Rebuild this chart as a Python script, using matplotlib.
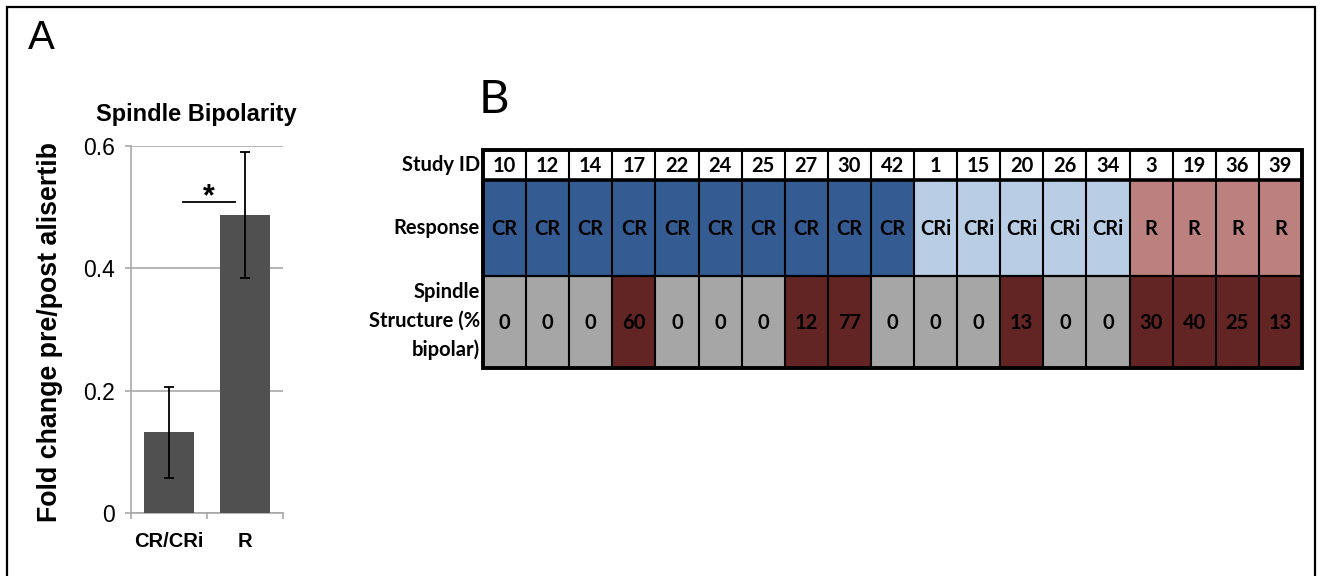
import numpy as np
import matplotlib
matplotlib.use("Agg")
import matplotlib.pyplot as plt
from matplotlib.patches import Rectangle

# Panel A: spindle bipolarity by response group
groups = ["CR/CRi", "R"]
fold_change = [0.132, 0.487]
fold_err = [0.074, 0.103]
y_ticks = [0, 0.2, 0.4, 0.6]
y_tick_labels = ["0", "0.2", "0.4", "0.6"]

# Panel B: per-patient table
study_ids = [10, 12, 14, 17, 22, 24, 25, 27, 30, 42, 1, 15, 20, 26, 34, 3, 19, 36, 39]
responses = ["CR"] * 10 + ["CRi"] * 5 + ["R"] * 4
pct_bipolar = [0, 0, 0, 60, 0, 0, 0, 12, 77, 0, 0, 0, 13, 0, 0, 30, 40, 25, 13]
row_labels = ["Study ID", "Response", "Spindle\nStructure (%\nbipolar)"]

response_colors = {"CR": "#355c92", "CRi": "#b9cde5", "R": "#bc817f"}
zero_color = "#a6a6a6"
bipolar_color = "#632523"

W, H = 1320, 576
fig = plt.figure(figsize=(W / 100, H / 100), dpi=100)


def fx(px):
    return px / W


def fy(py):
    return 1 - py / H


# outer frame
fig.patches.append(Rectangle((fx(7), -0.02), fx(1315) - fx(7), fy(7) + 0.02,
                             transform=fig.transFigure, fill=False,
                             edgecolor="black", linewidth=1.6))

fig.text(fx(41), fy(38), "A", fontsize=29, family="Liberation Sans",
         ha="center", va="center")
fig.text(fx(494), fy(100), "B", fontsize=34, family="Lato",
         ha="center", va="center")

# ---- bar chart ----
grey_axis = "#a9a9a9"
ax = fig.add_axes([fx(131), fy(513), fx(283) - fx(131), fy(146) - fy(513)])
x = np.arange(len(groups))
ax.bar(x, fold_change, width=0.67, color="#505050", zorder=3)
ax.errorbar(x, fold_change, yerr=fold_err, fmt="none", ecolor="black",
            elinewidth=1.3, capsize=3.3, capthick=1.3, zorder=4)
ax.set_xlim(-0.5, 1.5)
ax.set_ylim(0, 0.6)
ax.set_yticks(y_ticks)
ax.set_yticklabels(y_tick_labels, family="Liberation Sans", fontsize=16.5)
ax.yaxis.grid(True, color=grey_axis, linewidth=1.2, zorder=0)
ax.set_axisbelow(True)
ax.tick_params(axis="y", length=4.5, width=1.2, color=grey_axis, pad=7)
ax.set_xticks([-0.5, 0.5, 1.5])
ax.set_xticklabels([])
ax.set_xticks(x, minor=True)
ax.set_xticklabels(groups, minor=True, family="Liberation Sans",
                   fontweight="bold", fontsize=14.5)
ax.tick_params(axis="x", which="major", length=4.5, width=1.2, color=grey_axis)
ax.tick_params(axis="x", which="minor", length=0, pad=14)
for side in ["top", "right"]:
    ax.spines[side].set_visible(False)
for side in ["left", "bottom"]:
    ax.spines[side].set_color(grey_axis)
    ax.spines[side].set_linewidth(1.2)

# significance bar
ax.plot([0.18, 0.87], [0.508, 0.508], color="black", linewidth=1.3,
        clip_on=False, zorder=5)
ax.text(0.52, 0.503, "*", ha="center", va="baseline", fontsize=22,
        fontweight="bold", family="Liberation Sans")

ax.set_title("Spindle Bipolarity", family="Liberation Sans",
             fontweight="bold", fontsize=17, pad=18, x=0.43)
fig.text(fx(50), fy(332), "Fold change pre/post alisertib", rotation=90,
         ha="center", va="center", family="Liberation Sans",
         fontweight="bold", fontsize=19.3)

# ---- table ----
row_h = [30, 96, 92]
row_top = np.concatenate([[0], np.cumsum(row_h)])
tab = fig.add_axes([fx(483), fy(368), fx(1302) - fx(483), fy(150) - fy(368)])
n = len(study_ids)
tab.set_xlim(0, n)
tab.set_ylim(row_top[-1], 0)
tab.axis("off")

for i in range(n):
    fills = ["white", response_colors[responses[i]],
             zero_color if pct_bipolar[i] == 0 else bipolar_color]
    texts = [str(study_ids[i]), responses[i], str(pct_bipolar[i])]
    for r in range(3):
        tab.add_patch(Rectangle((i, row_top[r]), 1, row_h[r],
                                facecolor=fills[r], edgecolor="none"))
        tab.text(i + 0.5, row_top[r] + row_h[r] / 2 + 1, texts[r],
                 ha="center", va="center", family="Lato",
                 fontweight="bold", fontsize=14.5, color="black")

# grid lines
for i in range(1, n):
    tab.plot([i, i], [0, row_top[-1]], color="black", linewidth=1.5,
             solid_capstyle="butt")
tab.plot([0, n], [row_top[1], row_top[1]], color="black", linewidth=2.6)
tab.plot([0, n], [row_top[2], row_top[2]], color="black", linewidth=1.6)
tab.add_patch(Rectangle((0, 0), n, row_top[-1], fill=False,
                        edgecolor="black", linewidth=2.8, clip_on=False))

# row headers
label_y = [165, 228, 321]
for lab, py in zip(row_labels, label_y):
    fig.text(fx(480), fy(py), lab, ha="right", va="center", family="Lato",
             fontweight="bold", fontsize=14.5, linespacing=1.55)

fig.savefig("out.png", dpi=100)
